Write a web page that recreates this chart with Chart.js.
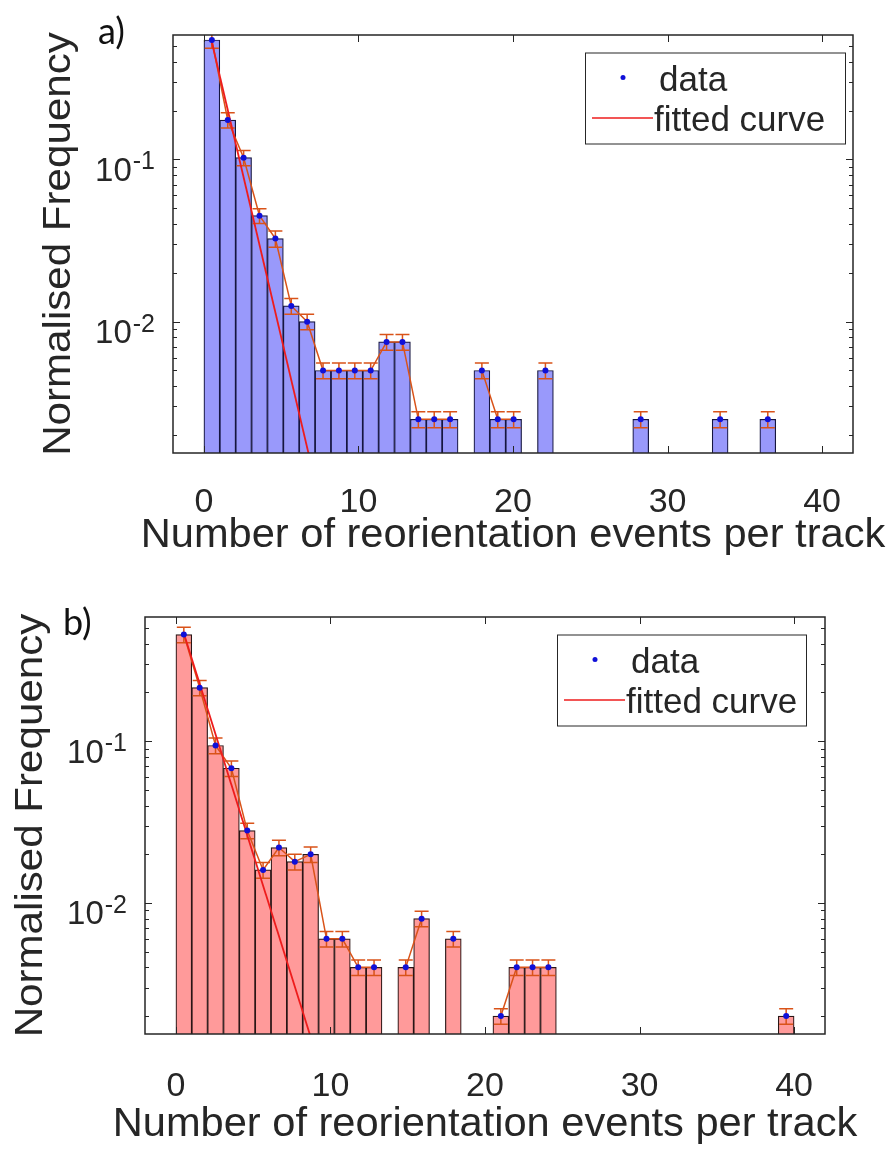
<!DOCTYPE html>
<html>
<head>
<meta charset="utf-8">
<title>Reorientation events per track</title>
<script src="https://cdn.jsdelivr.net/npm/chart.js@4.4.1/dist/chart.umd.min.js"></script>
<style>
  html, body { margin: 0; padding: 0; background: #fff; }
  #page { position: relative; width: 896px; height: 1151px; overflow: hidden; }
  canvas { position: absolute; left: 0; }
  #chartA { top: 0; }
  #chartB { top: 575px; }
</style>
</head>
<body>
<div id="page">
  <canvas id="chartA" width="896" height="575"></canvas>
  <canvas id="chartB" width="896" height="576"></canvas>
</div>
<script>
// ---- data -------------------------------------------------------------
// range covered by the histogram bins (events per track)
const rangeA = [0, 37];
const rangeB = [0, 40];

// normalised frequency per bin, null where the bin is empty
const freqA = [0.545, 0.175, 0.1025, 0.045, 0.0325, 0.0125, 0.01, 0.005, 0.005, 0.005,
               0.005, 0.0075, 0.0075, 0.0025, 0.0025, 0.0025, null, 0.005, 0.0025, 0.0025,
               null, 0.005, null, null, null, null, null, 0.0025, null, null,
               null, null, 0.0025, null, null, 0.0025];
const errA  = [0.06, 0.019, 0.011, 0.0047, 0.0037, 0.0014, 0.0011, 0.00056, 0.00056, 0.00056,
               0.00056, 0.00083, 0.00083, 0.00028, 0.00028, 0.00028, null, 0.00056, 0.00028, 0.00028,
               null, 0.00056, null, null, null, null, null, 0.00028, null, null,
               null, null, 0.00028, null, null, 0.00028];

const freqB = [0.456, 0.214, 0.094, 0.068, 0.028, 0.016, 0.022, 0.018, 0.02, 0.006,
               0.006, 0.004, 0.004, null, 0.004, 0.008, null, 0.006, null, null,
               0.002, 0.004, 0.004, 0.004, null, null, null, null, null, null,
               null, null, null, null, null, null, null, null, 0.002];
const errB  = [0.05, 0.023, 0.0105, 0.0075, 0.0031, 0.0018, 0.0024, 0.002, 0.0022, 0.00066,
               0.00066, 0.00044, 0.00044, null, 0.00044, 0.00088, null, 0.00066, null, null,
               0.00022, 0.00044, 0.00044, 0.00044, null, null, null, null, null, null,
               null, null, null, null, null, null, null, null, 0.00022];

// exponential fit, given by its end points (straight on the log axis)
const fitXA = [0.51, 7.5];
const fitYA = [0.53, 0.00078];
const fitXB = [0.51, 9.5];
const fitYB = [0.464, 0.00086];

// axes
const xLimits = [-2, 42];
const yLimits = [0.00155, 0.585];
const xTickValues = [0, 10, 20, 30, 40];
const yTickValues = [0.01, 0.1];

// ---- styling ------------------------------------------------------------
const TEXT = '#262626';
const ORANGE = '#d95319';
const FIT_RED = '#ee1c1c';
const DOT_BLUE = '#1010d8';
const FONT = '"Liberation Sans", Arial, sans-serif';

Chart.defaults.font.family = FONT;
Chart.defaults.color = TEXT;

function binCentres(range, n) {
  const w = (range[1] - range[0]) / n;
  return Array.from({ length: n }, (_, i) => range[0] + (i + 0.5) * w);
}

// error bars with caps, drawn right after the orange errorbar line
const errorBarPlugin = {
  id: 'errorBars',
  afterDatasetDraw(chart, args) {
    const ds = chart.data.datasets[args.index];
    if (!ds.errors) return;
    const { ctx, chartArea: a, scales: { x, y } } = chart;
    ctx.save();
    ctx.beginPath();
    ctx.rect(a.left, a.top, a.right - a.left, a.bottom - a.top);
    ctx.clip();
    ctx.strokeStyle = ds.borderColor;
    ctx.lineWidth = 1.5;
    ctx.beginPath();
    ds.data.forEach((p, i) => {
      const e = ds.errors[i];
      if (p.y == null || e == null) return;
      const px = x.getPixelForValue(p.x);
      const hi = y.getPixelForValue(p.y + e);
      const lo = y.getPixelForValue(p.y - e);
      ctx.moveTo(px, hi); ctx.lineTo(px, lo);
      ctx.moveTo(px - 7, hi); ctx.lineTo(px + 7, hi);
      ctx.moveTo(px - 7, lo); ctx.lineTo(px + 7, lo);
    });
    ctx.stroke();
    ctx.restore();
  }
};

// box round the axes plus inward tick marks (minor ones on the log axis)
const framePlugin = {
  id: 'frame',
  afterDatasetsDraw(chart) {
    const { ctx, chartArea: a, scales: { x, y } } = chart;
    ctx.save();
    ctx.strokeStyle = TEXT;
    ctx.lineWidth = 1;
    ctx.beginPath();
    xTickValues.forEach(v => {
      const px = Math.round(x.getPixelForValue(v)) + 0.5;
      ctx.moveTo(px, a.bottom); ctx.lineTo(px, a.bottom - 7);
      ctx.moveTo(px, a.top); ctx.lineTo(px, a.top + 7);
    });
    const d0 = Math.floor(Math.log10(y.min));
    const d1 = Math.ceil(Math.log10(y.max));
    for (let d = d0; d <= d1; d++) {
      for (let k = 1; k <= 9; k++) {
        const v = k * Math.pow(10, d);
        if (v < y.min || v > y.max) continue;
        const py = Math.round(y.getPixelForValue(v)) + 0.5;
        const len = k === 1 ? 7 : 4;
        ctx.moveTo(a.left, py); ctx.lineTo(a.left + len, py);
        ctx.moveTo(a.right, py); ctx.lineTo(a.right - len, py);
      }
    }
    ctx.stroke();
    ctx.lineWidth = 1.5;
    ctx.strokeRect(a.left, a.top, a.right - a.left, a.bottom - a.top);
    ctx.restore();
  }
};

// axis titles, drawn slightly widened along the text like the printed figure
function drawWideText(ctx, text, cx, cy, size, stretch, angle) {
  ctx.save();
  ctx.translate(cx, cy);
  ctx.rotate(angle);
  ctx.scale(stretch, 1);
  ctx.font = size + 'px ' + FONT;
  ctx.textAlign = 'center';
  ctx.textBaseline = 'alphabetic';
  ctx.fillText(text, 0, 0);
  ctx.restore();
}

// "10" with a raised exponent for each decade tick, and the axis titles
const axisTextPlugin = {
  id: 'axisText',
  afterDraw(chart, args, opts) {
    const { ctx, chartArea: a, scales: { x, y } } = chart;
    ctx.save();
    ctx.fillStyle = TEXT;
    ctx.textAlign = 'right';
    ctx.textBaseline = 'alphabetic';
    yTickValues.forEach(v => {
      const py = y.getPixelForValue(v);
      const exp = String(Math.round(Math.log10(v)));
      const right = a.left - 18;
      ctx.font = '25px ' + FONT;
      ctx.fillText(exp, right, py + 10);
      const ew = ctx.measureText(exp).width;
      ctx.font = '33px ' + FONT;
      ctx.fillText('10', right - ew - 1, py + 21.5);
    });

    const cx = (a.left + a.right) / 2;
    const cy = (a.top + a.bottom) / 2;
    drawWideText(ctx, x.options.title.text, cx, a.bottom + opts.xTitleDrop, 40, 1.04, 0);
    drawWideText(ctx, y.options.title.text, a.left - opts.yTitleGap, cy, 39, 1.08, -Math.PI / 2);
    ctx.restore();
  }
};

// framed legend in the top right corner, plus the panel letter
const boxLegendPlugin = {
  id: 'boxLegend',
  afterDraw(chart, args, opts) {
    const { ctx, chartArea: a } = chart;
    const dataDs = chart.data.datasets.find(d => d.label === 'data');
    const fitDs = chart.data.datasets.find(d => d.label === 'fitted curve');
    const left = a.right - opts.inset - opts.width;
    const top = a.top + 17.5;
    const h = 91;
    ctx.save();
    ctx.fillStyle = '#fff';
    ctx.fillRect(left, top, opts.width, h);
    ctx.strokeStyle = TEXT;
    ctx.lineWidth = 1;
    ctx.strokeRect(left + 0.5, top + 0.5, opts.width, h);

    ctx.fillStyle = dataDs.pointBackgroundColor;
    ctx.beginPath();
    ctx.arc(left + 38, top + 25, 2.5, 0, 2 * Math.PI);
    ctx.fill();

    ctx.strokeStyle = fitDs.borderColor;
    ctx.lineWidth = 1.5;
    ctx.beginPath();
    ctx.moveTo(left + 7, top + 65.5);
    ctx.lineTo(left + 68, top + 65.5);
    ctx.stroke();

    ctx.fillStyle = TEXT;
    ctx.font = '35px ' + FONT;
    ctx.textAlign = 'left';
    ctx.textBaseline = 'middle';
    ctx.fillText(dataDs.label, left + 74, top + 29);
    ctx.fillText(fitDs.label, left + 69, top + 69);

    ctx.fillStyle = '#111';
    ctx.font = '36px Lato, "Open Sans", sans-serif';
    ctx.textBaseline = 'alphabetic';
    ctx.fillText(opts.panel, opts.panelX, opts.panelY);
    ctx.restore();
  }
};

function makeChart(id, cfg) {
  const xs = binCentres(cfg.range, cfg.freq.length);
  const pts = xs.map((x, i) => ({ x, y: cfg.freq[i] }));
  const fitPts = cfg.fitX.map((x, i) => ({ x, y: cfg.fitY[i] }));
  const area = cfg.area;
  const canvas = document.getElementById(id);

  return new Chart(canvas, {
    type: 'bar',
    data: {
      datasets: [
        {
          type: 'bar', label: 'histogram', data: pts,
          backgroundColor: cfg.fill, borderColor: cfg.edge, borderWidth: 1.2,
          borderSkipped: 'start', barPercentage: 1, categoryPercentage: 1,
          grouped: false, order: 4
        },
        {
          type: 'line', label: 'errorbar', data: pts, errors: cfg.err,
          borderColor: ORANGE, borderWidth: 1.5, pointRadius: 0,
          spanGaps: false, tension: 0, order: 3
        },
        {
          type: 'line', label: 'fitted curve', data: fitPts,
          borderColor: FIT_RED, borderWidth: 1.8, pointRadius: 0, tension: 0, order: 2
        },
        {
          type: 'line', label: 'data', data: pts, showLine: false,
          pointRadius: 3, pointBackgroundColor: DOT_BLUE, pointBorderWidth: 0,
          order: 1
        }
      ]
    },
    options: {
      responsive: false,
      animation: false,
      devicePixelRatio: 1,
      layout: {
        padding: { left: 0, top: area.top, right: canvas.width - area.right, bottom: 0 }
      },
      plugins: {
        legend: { display: false },
        tooltip: { enabled: false },
        boxLegend: cfg.legend,
        axisText: cfg.titles
      },
      scales: {
        x: {
          type: 'linear',
          offset: false,
          min: xLimits[0], max: xLimits[1],
          afterBuildTicks: s => { s.ticks = xTickValues.map(v => ({ value: v })); },
          afterFit: s => { s.height = canvas.height - area.bottom; },
          grid: { display: false },
          border: { display: false },
          ticks: {
            autoSkip: false, maxRotation: 0, padding: cfg.tickPad,
            font: { size: 34 }, color: TEXT
          },
          title: { display: false, text: 'Number of reorientation events per track' }
        },
        y: {
          type: 'logarithmic',
          min: yLimits[0], max: yLimits[1],
          afterFit: s => { s.width = area.left; },
          grid: { display: false },
          border: { display: false },
          ticks: { display: false },
          title: { display: false, text: 'Normalised Frequency' }
        }
      }
    },
    plugins: [errorBarPlugin, framePlugin, axisTextPlugin, boxLegendPlugin]
  });
}

makeChart('chartA', {
  range: rangeA, freq: freqA, err: errA, fitX: fitXA, fitY: fitYA,
  fill: '#9999fb', edge: '#161640',
  area: { left: 173, top: 35, right: 853, bottom: 453 },
  tickPad: 21,
  titles: { xTitleDrop: 94, yTitleGap: 103 },
  legend: { inset: 8, width: 260, panel: 'a)', panelX: 98, panelY: 44 }
});

makeChart('chartB', {
  range: rangeB, freq: freqB, err: errB, fitX: fitXB, fitY: fitYB,
  fill: '#ff9a9a', edge: '#2a1616',
  area: { left: 145, top: 42, right: 825, bottom: 459 },
  tickPad: 24,
  titles: { xTitleDrop: 102, yTitleGap: 103 },
  legend: { inset: 19, width: 249, panel: 'b)', panelX: 63, panelY: 60 }
});
</script>
</body>
</html>
